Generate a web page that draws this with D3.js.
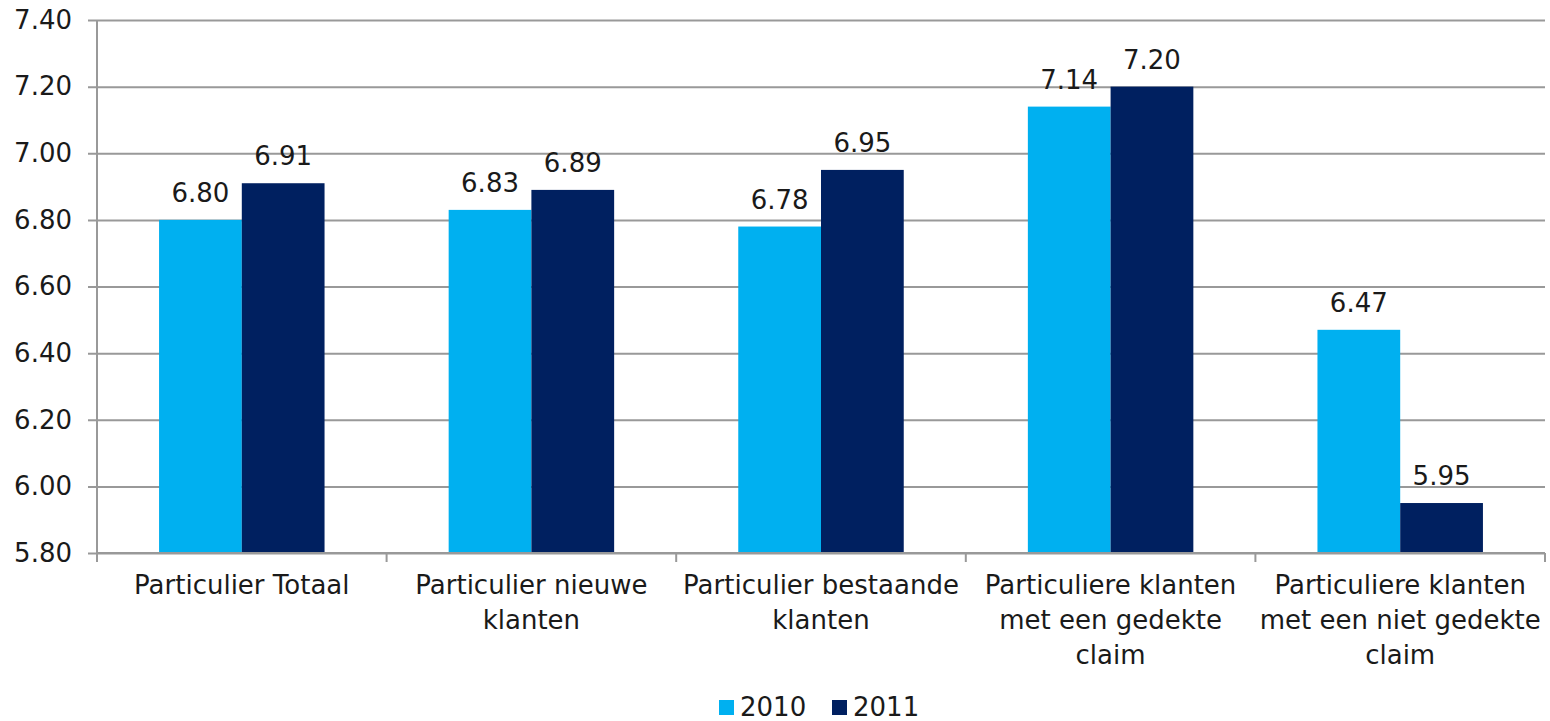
<!DOCTYPE html>
<html lang="nl">
<head>
    <meta charset="UTF-8">
    <title>Particulier 2010 - 2011</title>
    <style>
        body { margin: 0; background: #fff; }
        text { font-family: "DejaVu Sans", Verdana, sans-serif; font-size: 26px; fill: #1a1a1a; }
    </style>
</head>
<body>
    <div id="target"></div>
    <script src="https://d3js.org/d3.v7.min.js"></script>
    <script>
        // data
        const categories = [
            "Particulier Totaal",
            "Particulier nieuwe klanten",
            "Particulier bestaande klanten",
            "Particuliere klanten met een gedekte claim",
            "Particuliere klanten met een niet gedekte claim"
        ];
        // how the labels break over lines
        const categoryLines = [
            ["Particulier Totaal"],
            ["Particulier nieuwe", "klanten"],
            ["Particulier bestaande", "klanten"],
            ["Particuliere klanten", "met een gedekte", "claim"],
            ["Particuliere klanten", "met een niet gedekte", "claim"]
        ];
        const series = ["2010", "2011"];
        const values2010 = [6.80, 6.83, 6.78, 7.14, 6.47];
        const values2011 = [6.91, 6.89, 6.95, 7.20, 5.95];
        const yTicks = [5.80, 6.00, 6.20, 6.40, 6.60, 6.80, 7.00, 7.20, 7.40];
        const colors = ["#00b0f0", "#002060"];

        const width = 1550, height = 721;
        const plotLeft = 97, plotRight = 1545, plotTop = 20, plotBottom = 553;

        const svg = d3.select("#target").append("svg")
            .attr("width", width)
            .attr("height", height);

        const x0 = d3.scaleBand().domain(categories).range([plotLeft, plotRight]).padding(0);
        const x1 = d3.scaleBand().domain(series).range([0, x0.bandwidth()])
            .paddingInner(0).paddingOuter(0.75);
        const y = d3.scaleLinear().domain([5.8, 7.4]).range([plotBottom, plotTop]);
        const color = d3.scaleOrdinal().domain(series).range(colors);

        // gridlines + y labels
        const yAxis = svg.append("g")
            .attr("transform", `translate(${plotLeft},0)`)
            .call(d3.axisLeft(y).tickValues(yTicks).tickFormat(d3.format(".2f"))
                .tickSize(-(plotRight - plotLeft)).tickPadding(16));
        yAxis.select(".domain").remove();
        yAxis.selectAll(".tick line")
            .attr("x1", -9)
            .attr("stroke", "#999").attr("stroke-width", 2);
        yAxis.selectAll(".tick text")
            .attr("dx", -9)
            .style("font-size", "26px")
            .attr("fill", "#1a1a1a");

        const rows = categories.map((c, i) => ({
            cat: c,
            vals: [{ s: "2010", v: values2010[i] }, { s: "2011", v: values2011[i] }]
        }));

        const groups = svg.append("g").selectAll("g")
            .data(rows)
            .join("g")
            .attr("transform", d => `translate(${x0(d.cat)},0)`);

        groups.selectAll("rect")
            .data(d => d.vals)
            .join("rect")
            .attr("x", d => x1(d.s))
            .attr("y", d => y(d.v))
            .attr("width", x1.bandwidth())
            .attr("height", d => plotBottom - y(d.v))
            .attr("fill", d => color(d.s));

        groups.selectAll("text.val")
            .data(d => d.vals)
            .join("text")
            .attr("class", "val")
            .attr("x", d => x1(d.s) + x1.bandwidth() / 2)
            .attr("y", d => y(d.v) - 18)
            .attr("text-anchor", "middle")
            .text(d => d3.format(".2f")(d.v));

        // x axis line and ticks
        const axisG = svg.append("g");
        axisG.append("line")
            .attr("x1", plotLeft).attr("x2", plotRight)
            .attr("y1", plotBottom).attr("y2", plotBottom)
            .attr("stroke", "#999").attr("stroke-width", 2);
        axisG.append("line")
            .attr("x1", plotLeft).attr("x2", plotLeft)
            .attr("y1", plotTop).attr("y2", plotBottom)
            .attr("stroke", "#999").attr("stroke-width", 2);
        const bounds = categories.map(c => x0(c)).concat([plotRight]);
        axisG.selectAll("line.tk")
            .data(bounds)
            .join("line")
            .attr("class", "tk")
            .attr("x1", d => d).attr("x2", d => d)
            .attr("y1", plotBottom).attr("y2", plotBottom + 9)
            .attr("stroke", "#999").attr("stroke-width", 2);

        // category labels
        svg.append("g").selectAll("text")
            .data(categories)
            .join("text")
            .attr("text-anchor", "middle")
            .attr("x", d => x0(d) + x0.bandwidth() / 2)
            .attr("y", 594)
            .each(function (d, i) {
                d3.select(this).selectAll("tspan")
                    .data(categoryLines[i])
                    .join("tspan")
                    .attr("x", x0(d) + x0.bandwidth() / 2)
                    .attr("dy", (t, j) => j === 0 ? 0 : 35)
                    .text(t => t);
            });

        // legend
        const legendX = [719, 832];
        const legend = svg.append("g").selectAll("g")
            .data(series)
            .join("g")
            .attr("transform", (d, i) => `translate(${legendX[i]},700)`);
        legend.append("rect")
            .attr("width", 15).attr("height", 15)
            .attr("fill", d => color(d));
        legend.append("text")
            .attr("x", 21).attr("y", 16)
            .text(d => d);
    </script>
</body>
</html>
